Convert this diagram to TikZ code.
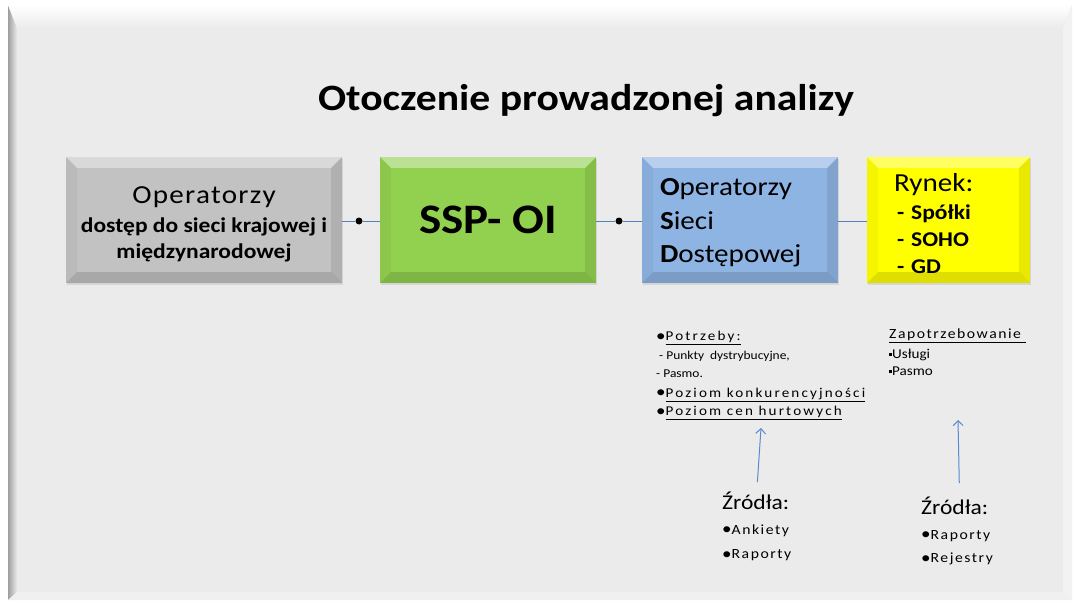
\documentclass[tikz,border=0pt]{standalone}
\usepackage{fontspec}
\setmainfont{Carlito}[FakeStretch=1.12]
\newfontfamily\spc{Carlito}[FakeStretch=1.12,LetterSpace=11]
\newfontfamily\spcw{Carlito}[FakeStretch=1.12,LetterSpace=16]
\newfontfamily\spcs{Carlito}[FakeStretch=1.12,LetterSpace=5]
\usetikzlibrary{shadows,arrows.meta,calc}
\definecolor{framebg}{HTML}{EBEBEB}
\definecolor{boxgray}{HTML}{C2C2C2}
\definecolor{boxgreen}{HTML}{92D050}
\definecolor{boxblue}{HTML}{8EB4E3}
\definecolor{boxyellow}{HTML}{FFFF00}
\definecolor{linkblue}{HTML}{4F81BD}
\definecolor{arrowblue}{HTML}{5A8AD0}
\newcommand{\sqbul}{\raisebox{2.5pt}{\rule{3pt}{3pt}}}
\newcommand{\bul}{{\fontsize{17}{17}\selectfont\raisebox{-0.5pt}{\textbullet}}}
\begin{document}
\begin{tikzpicture}[x=1pt,y=-1pt,
  bev/.style={rectangle, inner sep=0pt, minimum height=126pt, fill=#1,
    drop shadow={shadow xshift=1.2pt, shadow yshift=-2pt, opacity=0.18},
    path picture={
      \fill[white,opacity=.38] (path picture bounding box.north west) -- (path picture bounding box.north east) -- ([shift={(-11pt,-11pt)}]path picture bounding box.north east) -- ([shift={(11pt,-11pt)}]path picture bounding box.north west) -- cycle;
      \fill[black,opacity=.13] (path picture bounding box.south west) -- (path picture bounding box.south east) -- ([shift={(-11pt,11pt)}]path picture bounding box.south east) -- ([shift={(11pt,11pt)}]path picture bounding box.south west) -- cycle;
      \fill[black,opacity=.04] (path picture bounding box.north west) -- (path picture bounding box.south west) -- ([shift={(11pt,11pt)}]path picture bounding box.south west) -- ([shift={(11pt,-11pt)}]path picture bounding box.north west) -- cycle;
      \fill[black,opacity=.09] (path picture bounding box.north east) -- (path picture bounding box.south east) -- ([shift={(-11pt,11pt)}]path picture bounding box.south east) -- ([shift={(-11pt,-11pt)}]path picture bounding box.north east) -- cycle;
    }},
  conn/.style={draw=linkblue, line width=0.7pt},
  dotnode/.style={circle, fill=black, inner sep=0pt, minimum size=7pt},
  arr/.style={draw=arrowblue, line width=1pt, -{Straight Barb[length=5pt,width=10pt]}},
  txt/.style={inner sep=0pt, align=left, text=black}
]
\useasboundingbox (0,0) rectangle (1075,604);
% background frame
\fill[white] (0,0) rectangle (1075,604);
\fill[framebg] (8,5) rectangle (1072,600);
\shade[left color=black!38, right color=framebg] (8,5) -- (17,28) -- (17,592) -- (8,600) -- cycle;
\shade[top color=white, bottom color=framebg] (8,5) -- (1072,5) -- (1063,28) -- (17,28) -- cycle;
\fill[black!5] (1072,5) -- (1063,28) -- (1063,592) -- (1072,600) -- cycle;
\fill[black!6] (8,600) -- (17,592) -- (1063,592) -- (1072,600) -- cycle;

% title
\node[inner sep=0pt, anchor=base, font=\bfseries\fontsize{37.2}{37.2}\selectfont] (title) at (586,111) {Otoczenie prowadzonej analizy};

% boxes
\node[bev=boxgray, minimum width=276pt, align=center, font=\fontsize{21}{26}\selectfont] (opint) at (204,220)
  {\raisebox{-6pt}[19.5pt][0pt]{\spcs\fontsize{26}{26}\selectfont Operatorzy}\\[9pt]\bfseries dostęp do sieci krajowej i\\\bfseries międzynarodowej};
\node[bev=boxgreen, minimum width=216pt, font=\bfseries\fontsize{42}{42}\selectfont] (ssp) at (488,220)
  {\raisebox{-3pt}{SSP- OI}};
\node[bev=boxblue, minimum width=196pt, text width=160pt, align=left, font=\fontsize{26}{33.5}\selectfont] (osd) at (740,220)
  {\rule{0pt}{23pt}\textbf{O}peratorzy\\\textbf{S}ieci\\\textbf{D}ostępowej};
\node[bev=boxyellow, minimum width=163pt, text width=109pt, align=left, font=\fontsize{21}{27}\selectfont] (rynek) at (948.5,220)
  {{\fontsize{26}{27}\selectfont\rule{0pt}{25.5pt}Rynek:}\\[1pt]\bfseries\hspace*{3pt}- Spółki\\\hspace*{3pt}- SOHO\\\hspace*{3pt}- GD};

% connectors
\node[dotnode] (d1) at (359,221) {};
\node[dotnode] (d2) at (619,221) {};
\draw[conn] (opint.east |- d1) -- (d1) -- (ssp.west |- d1);
\draw[conn] (ssp.east |- d2) -- (d2) -- (osd.west |- d2);
\draw[conn] (osd.east |- d2) -- (rynek.west |- d2);

% lists
\node[txt, anchor=north west, font=\fontsize{13.5}{18.6}\selectfont] (needs) at (656,331)
  {{\spcw\bul\underline{Potrzeby:}}\\
   {\fontsize{12}{12}\selectfont\ - Punkty\ \ dystrybucyjne,}\\
   {\fontsize{12}{12}\selectfont - Pasmo.}\\[1pt]
   {\spcw\bul\underline{Poziom konkurencyjności}}\\
   {\spcw\bul\underline{Poziom cen hurtowych}}};
\node[txt, anchor=north west, font=\fontsize{14}{17.5}\selectfont] (zap) at (889,329)
  {{\spc\underline{Zapotrzebowanie\ }}\\[2pt]
   {\fontsize{13.5}{12}\selectfont\sqbul Usługi}\\
   {\fontsize{13.5}{12}\selectfont\sqbul Pasmo}};

\node[txt, anchor=north west, font=\fontsize{14}{24.5}\selectfont] (src1) at (722,492)
  {{\fontsize{21}{21}\selectfont Źródła:}\\
   {\spc\bul Ankiety}\\
   {\spc\bul Raporty}};
\node[txt, anchor=north west, font=\fontsize{14}{23.5}\selectfont] (src2) at (921,497)
  {{\fontsize{21}{21}\selectfont Źródła:}\\[1pt]
   {\spc\bul Raporty}\\
   {\spc\bul Rejestry}};

% arrows
\coordinate (tip1) at (761,428);
\coordinate (tip2) at (958,420);
\draw[arr, shorten <=10pt] (src1.north) -- (tip1);
\draw[arr, shorten <=14pt] ([xshift=2.5pt]src2.north) -- (tip2);
\end{tikzpicture}
\end{document}
